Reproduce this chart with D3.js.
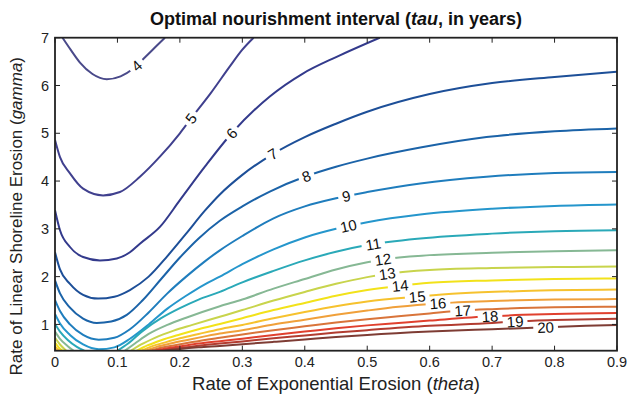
<!DOCTYPE html>
<html><head><meta charset="utf-8">
<script src="https://cdn.jsdelivr.net/npm/d3@7"></script>
<style>body{margin:0;background:#fff}</style>
</head><body>
<svg id="c" width="629" height="404"></svg>
<script>
// ---- data ----
const levels = [4,5,6,7,8,9,10,11,12,13,14,15,16,17,18,19,20];
const colors = ["#4a4a8a","#40408e","#333a8c","#1d4f98","#1b63a8","#1f7dbd","#2596cc","#2aa9b8","#86b894","#c8d44c","#f2e21a","#f6c22e","#f0a03a","#d9743a","#e0402e","#b23c30","#7e3c34"];
const xTicks = [0,0.1,0.2,0.3,0.4,0.5,0.6,0.7,0.8,0.9];
const yTicks = [1,2,3,4,5,6,7];
const xTickLabels = ["0","0.1","0.2","0.3","0.4","0.5","0.6","0.7","0.8","0.9"];
const yTickLabels = ["1","2","3","4","5","6","7"];

const tau4 = [[[0.012,7],[0.025,6.75],[0.04,6.48],[0.06,6.24],[0.083,6.13],[0.105,6.19],[0.125,6.35],[0.145,6.6],[0.162,6.82],[0.176,7]]];
const tau5 = [[[0,4.86],[0.008,4.5],[0.024,4.16],[0.045,3.84],[0.077,3.70],[0.104,3.77],[0.136,4.09],[0.168,4.51],[0.2,5.0],[0.218,5.31],[0.25,5.85],[0.28,6.4],[0.3,6.75],[0.318,7]]];
const tau6 = [[[0,3.39],[0.008,2.97],[0.024,2.62],[0.045,2.41],[0.072,2.34],[0.099,2.38],[0.12,2.51],[0.136,2.69],[0.168,3.04],[0.2,3.6],[0.24,4.3],[0.283,5.0],[0.344,5.77],[0.397,6.25],[0.451,6.6],[0.52,7]]];
const tau7 = [[[0,2.51],[0.008,2.15],[0.024,1.85],[0.045,1.62],[0.069,1.54],[0.095,1.58],[0.12,1.72],[0.15,2.0],[0.18,2.43],[0.21,2.9],[0.24,3.38],[0.264,3.72],[0.3,4.13],[0.348,4.56],[0.4,4.92],[0.45,5.2],[0.5,5.45],[0.6,5.82],[0.7,6.05],[0.8,6.18],[0.9,6.29]]];
const tau8 = [[[0,1.92],[0.008,1.65],[0.024,1.35],[0.045,1.12],[0.067,1.03],[0.09,1.06],[0.115,1.2],[0.14,1.5],[0.17,1.95],[0.2,2.4],[0.23,2.8],[0.264,3.17],[0.3,3.47],[0.344,3.78],[0.402,4.1],[0.45,4.3],[0.5,4.47],[0.585,4.7],[0.691,4.92],[0.8,5.04],[0.9,5.10]]];
const tau9 = [[[0,1.51],[0.008,1.28],[0.024,1.0],[0.045,0.78],[0.07,0.68],[0.095,0.72],[0.12,0.9],[0.15,1.25],[0.18,1.65],[0.21,2.0],[0.24,2.32],[0.264,2.55],[0.3,2.85],[0.35,3.22],[0.4,3.47],[0.45,3.64],[0.5,3.77],[0.585,3.95],[0.691,4.09],[0.8,4.17],[0.9,4.19]]];
const tau10 = [[[0,1.22],[0.008,1.02],[0.024,0.78],[0.045,0.58],[0.07,0.48],[0.095,0.52],[0.12,0.7],[0.15,1.0],[0.18,1.33],[0.21,1.6],[0.24,1.84],[0.264,2.0],[0.3,2.26],[0.35,2.57],[0.4,2.82],[0.45,3.0],[0.5,3.14],[0.585,3.3],[0.7,3.42],[0.8,3.48],[0.9,3.51]]];
const tau11 = [[[0,1.01],[0.008,0.85],[0.02,0.68],[0.035,0.53],[0.047,0.45]],
               [[0.1,0.45],[0.117,0.6],[0.14,0.86],[0.17,1.13],[0.2,1.34],[0.23,1.52],[0.264,1.68],[0.3,1.88],[0.35,2.12],[0.4,2.34],[0.45,2.52],[0.5,2.66],[0.585,2.8],[0.7,2.9],[0.8,2.95],[0.9,2.97]]];
const tau12 = [[[0,0.85],[0.008,0.7],[0.02,0.55],[0.03,0.45]],
               [[0.112,0.45],[0.128,0.6],[0.15,0.8],[0.18,0.99],[0.21,1.14],[0.264,1.38],[0.3,1.52],[0.35,1.75],[0.4,1.95],[0.45,2.15],[0.5,2.3],[0.525,2.36],[0.6,2.45],[0.7,2.5],[0.8,2.53],[0.9,2.55]]];
const tau13 = [[[0,0.72],[0.008,0.58],[0.018,0.45]],
               [[0.122,0.45],[0.138,0.58],[0.16,0.72],[0.19,0.87],[0.22,0.99],[0.264,1.16],[0.3,1.3],[0.35,1.5],[0.4,1.68],[0.45,1.85],[0.5,1.99],[0.532,2.06],[0.6,2.14],[0.7,2.18],[0.8,2.2],[0.9,2.21]]];
const tau14 = [[[0,0.62],[0.006,0.52],[0.012,0.45]],
               [[0.131,0.45],[0.148,0.56],[0.17,0.67],[0.2,0.79],[0.23,0.9],[0.264,1.01],[0.3,1.13],[0.35,1.3],[0.4,1.45],[0.45,1.6],[0.5,1.72],[0.553,1.81],[0.6,1.87],[0.7,1.92],[0.8,1.95],[0.9,1.96]]];
const tau15 = [[[0,0.54],[0.004,0.49],[0.008,0.45]],
               [[0.138,0.45],[0.155,0.54],[0.178,0.63],[0.2,0.71],[0.23,0.8],[0.264,0.9],[0.3,0.99],[0.35,1.13],[0.4,1.26],[0.45,1.38],[0.5,1.48],[0.58,1.58],[0.65,1.65],[0.75,1.7],[0.9,1.73]]];
const tau16 = [[[0,0.48],[0.003,0.45]],
               [[0.145,0.45],[0.163,0.53],[0.185,0.6],[0.21,0.67],[0.24,0.75],[0.264,0.81],[0.3,0.88],[0.35,1.0],[0.4,1.1],[0.45,1.2],[0.5,1.29],[0.55,1.37],[0.613,1.44],[0.7,1.49],[0.8,1.52],[0.9,1.53]]];
const tau17 = [[[0.152,0.45],[0.17,0.51],[0.19,0.56],[0.22,0.63],[0.264,0.72],[0.3,0.79],[0.35,0.88],[0.4,0.96],[0.45,1.04],[0.5,1.11],[0.55,1.17],[0.6,1.23],[0.653,1.29],[0.7,1.32],[0.8,1.36],[0.9,1.37]]];
const tau18 = [[[0.16,0.45],[0.18,0.5],[0.2,0.54],[0.23,0.6],[0.264,0.65],[0.3,0.7],[0.35,0.78],[0.4,0.85],[0.45,0.92],[0.5,0.98],[0.55,1.03],[0.6,1.08],[0.697,1.17],[0.75,1.2],[0.8,1.22],[0.9,1.24]]];
const tau19 = [[[0.168,0.45],[0.19,0.49],[0.215,0.53],[0.24,0.57],[0.264,0.6],[0.3,0.645],[0.35,0.71],[0.4,0.77],[0.45,0.83],[0.5,0.88],[0.6,0.97],[0.7,1.03],[0.737,1.06],[0.8,1.09],[0.9,1.12]]];
const tau20 = [[[0.176,0.45],[0.2,0.485],[0.23,0.52],[0.264,0.55],[0.3,0.585],[0.35,0.635],[0.4,0.685],[0.45,0.735],[0.5,0.78],[0.6,0.85],[0.7,0.9],[0.786,0.94],[0.85,0.97],[0.9,0.99]]];
const contourData = [tau4,tau5,tau6,tau7,tau8,tau9,tau10,tau11,tau12,tau13,tau14,tau15,tau16,tau17,tau18,tau19,tau20];
const labelPos = [[0.131,6.41],[0.218,5.31],[0.283,5.0],[0.348,4.58],[0.402,4.12],[0.466,3.72],[0.469,3.13],[0.509,2.76],[0.525,2.38],[0.532,2.09],[0.553,1.81],[0.58,1.58],[0.613,1.44],[0.653,1.29],[0.697,1.17],[0.737,1.06],[0.786,0.94]];

// ---- drawing ----
const FONT = "'Liberation Sans', Arial, Helvetica, sans-serif";
const svg = d3.select("#c");
const L = 55, R = 617, T = 37.7, B = 350.7;
const x = d3.scaleLinear().domain([0,0.9]).range([L,R]);
const y = d3.scaleLinear().domain([0.45,7]).range([B,T]);

const defs = svg.append("defs");
defs.append("clipPath").attr("id","plotclip").append("rect")
  .attr("x",L).attr("y",T).attr("width",R-L).attr("height",B-T);

const line = d3.line().x(d=>x(d[0])).y(d=>y(d[1])).curve(d3.curveMonotoneX);

const plot = svg.append("g").attr("clip-path","url(#plotclip)");
const labelsG = svg.append("g");

levels.forEach((lev,i)=>{
  const d = contourData[i].map(seg=>line(seg)).join("");
  const path = plot.append("path").attr("d",d).attr("fill","none")
    .attr("stroke",colors[i]).attr("stroke-width",2).attr("stroke-linejoin","round");
  const node = path.node();
  const len = node.getTotalLength();
  const px = x(labelPos[i][0]), py = y(labelPos[i][1]);
  let best=0, bd=Infinity;
  for(let s=0;s<=len;s+=0.5){const p=node.getPointAtLength(s);const dd=(p.x-px)**2+(p.y-py)**2;if(dd<bd){bd=dd;best=s;}}
  const p=node.getPointAtLength(best);
  const a=node.getPointAtLength(Math.max(0,best-6)), b=node.getPointAtLength(Math.min(len,best+6));
  let ang=Math.atan2(b.y-a.y,b.x-a.x)*180/Math.PI;
  if(ang>90)ang-=180; if(ang<-90)ang+=180;
  const t = labelsG.append("text").text(String(lev))
    .attr("transform",`translate(${p.x},${p.y}) rotate(${ang})`)
    .attr("text-anchor","middle").attr("dy","0.36em")
    .attr("font-family",FONT).attr("font-size",15).attr("fill","#111");
  const w = t.node().getComputedTextLength()+8;
  const m = defs.append("mask").attr("id","m"+lev).attr("maskUnits","userSpaceOnUse")
    .attr("x",0).attr("y",0).attr("width",629).attr("height",404);
  m.append("rect").attr("x",0).attr("y",0).attr("width",629).attr("height",404).attr("fill","#fff");
  m.append("rect").attr("x",-w/2).attr("y",-7).attr("width",w).attr("height",14).attr("fill","#000")
    .attr("transform",`translate(${p.x},${p.y}) rotate(${ang})`);
  path.attr("mask",`url(#m${lev})`);
});

// frame
svg.append("rect").attr("x",L).attr("y",T).attr("width",R-L).attr("height",B-T)
  .attr("fill","none").attr("stroke","#222").attr("stroke-width",1.8);

// ticks (inward, all sides)
const tk = svg.append("g").attr("stroke","#222").attr("stroke-width",1);
xTicks.forEach(v=>{
  tk.append("line").attr("x1",x(v)).attr("x2",x(v)).attr("y1",B).attr("y2",B-5);
  tk.append("line").attr("x1",x(v)).attr("x2",x(v)).attr("y1",T).attr("y2",T+5);
});
yTicks.forEach(v=>{
  tk.append("line").attr("x1",L).attr("x2",L+5).attr("y1",y(v)).attr("y2",y(v));
  tk.append("line").attr("x1",R).attr("x2",R-5).attr("y1",y(v)).attr("y2",y(v));
});

// tick labels
xTicks.forEach((v,i)=>{
  svg.append("text").attr("x",x(v)).attr("y",B+16).attr("text-anchor","middle")
    .attr("font-family",FONT).attr("font-size",14.5).attr("fill","#222").text(xTickLabels[i]);
});
yTicks.forEach((v,i)=>{
  svg.append("text").attr("x",L-6).attr("y",y(v)).attr("dy","0.36em").attr("text-anchor","end")
    .attr("font-family",FONT).attr("font-size",14.5).attr("fill","#222").text(yTickLabels[i]);
});

// title
const title = svg.append("text").attr("x",(L+R)/2).attr("y",25).attr("text-anchor","middle")
  .attr("font-family",FONT).attr("font-size",18).attr("font-weight","bold").attr("fill","#111");
title.append("tspan").text("Optimal nourishment interval (");
title.append("tspan").attr("font-style","italic").text("tau");
title.append("tspan").text(", in years)");

// x label
const xl = svg.append("text").attr("x",(L+R)/2).attr("y",390).attr("text-anchor","middle")
  .attr("font-family",FONT).attr("font-size",18.5).attr("fill","#222");
xl.append("tspan").text("Rate of Exponential Erosion (");
xl.append("tspan").attr("font-style","italic").text("theta");
xl.append("tspan").text(")");

// y label
const yl = svg.append("text").attr("transform",`translate(22,${(T+B)/2+22}) rotate(-90)`).attr("text-anchor","middle")
  .attr("font-family",FONT).attr("font-size",17).attr("fill","#222");
yl.append("tspan").text("Rate of Linear Shoreline Erosion (");
yl.append("tspan").attr("font-style","italic").text("gamma");
yl.append("tspan").text(")");
</script>
</body></html>
